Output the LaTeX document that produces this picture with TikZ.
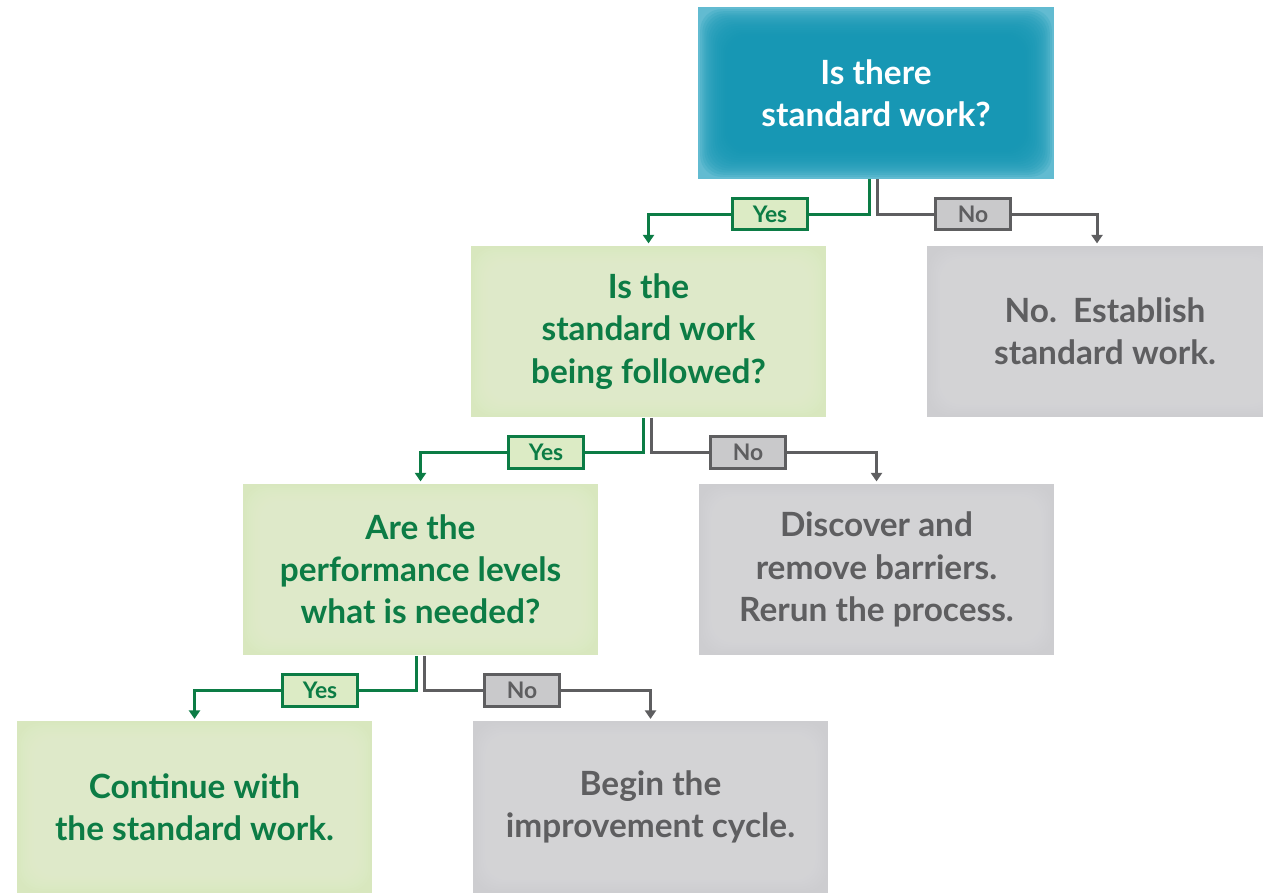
\documentclass[tikz,border=0pt]{standalone}
\usepackage{fontspec}
\setmainfont{Lato}
\usetikzlibrary{arrows.meta}

\definecolor{tealbox}{HTML}{1497B4}
\definecolor{tealedge}{HTML}{62BBD1}
\definecolor{leaf}{HTML}{E3EECE}
\definecolor{leafedge}{HTML}{D8E7BE}
\definecolor{fog}{HTML}{D8D8DA}
\definecolor{fogedge}{HTML}{CDCDD0}
\definecolor{pine}{HTML}{0C7C45}
\definecolor{slate}{HTML}{5E5E60}
\definecolor{yesfill}{HTML}{DCEBC5}
\definecolor{nofill}{HTML}{C9C9CB}

\tikzset{
  box/.style={minimum width=7.12cm, minimum height=3.44cm, inner sep=0pt,
    align=center, font=\fontsize{19}{24}\selectfont\bfseries},
  % soft edge: edge colour outside, body colour built up towards the middle
  glow/.style 2 args={fill=#1, path picture={
    \foreach \i in {1,...,14}
      \fill[#2, opacity=.18, rounded corners=12pt]
        ([shift={(\i*1.2pt,\i*1.2pt)}]path picture bounding box.south west) rectangle
        ([shift={(-\i*1.2pt,-\i*1.2pt)}]path picture bounding box.north east);}},
  question/.style={box, glow={tealedge}{tealbox}, text=white},
  ask/.style={box, glow={leafedge}{leaf}, text=pine},
  outcome/.style={box, glow={fogedge}{fog}, text=slate},
  tag/.style={line width=0.06cm, minimum width=1.5cm, minimum height=0.64cm,
    inner sep=0pt, font=\fontsize{13}{14}\selectfont\bfseries},
  yestag/.style={tag, draw=pine, fill=yesfill, text=pine},
  notag/.style={tag, draw=slate, fill=nofill, text=slate},
  yesline/.style={draw=pine, line width=0.06cm, shorten >=1pt,
    -{Triangle[width=0.22cm,length=0.17cm]}},
  noline/.style={draw=slate, line width=0.06cm, shorten >=1pt,
    -{Triangle[width=0.22cm,length=0.17cm]}},
}

\begin{document}
\begin{tikzpicture}[x=0.02cm, y=-0.02cm]
  \useasboundingbox (0,0) rectangle (1263,892);

  % boxes
  \node[question] (std)       at (876,93)      {Is there\\standard work?};
  \node[ask]      (follow)    at (648.5,331.5) {Is the\\standard work\\being followed?};
  \node[outcome]  (establish) at (1105,331.5)  {No.\ \ Establish\\standard work.};
  \node[ask]      (perf)      at (420.5,569.5) {Are the\\performance levels\\what is needed?};
  \node[outcome]  (barriers)  at (876.5,569.5) {Discover and\\remove barriers.\\Rerun the process.};
  \node[ask]      (keep)      at (194.5,807)   {Continue with\\the standard work.};
  \node[outcome]  (improve)   at (650.5,807)   {Begin the\\improvement cycle.};

  % yes / no tags
  \node[yestag] (yes1) at (770,214) {Yes};
  \node[notag]  (no1)  at (973,214) {No};
  \node[yestag] (yes2) at (546,452) {Yes};
  \node[notag]  (no2)  at (748,452) {No};
  \node[yestag] (yes3) at (320,690) {Yes};
  \node[notag]  (no3)  at (522,690) {No};

  % branches
  \draw[yesline] ([xshift=-0.14cm]std.south) |- (yes1.east) (yes1.west) -| (follow.north);
  \draw[noline]  ([xshift=0.02cm]std.south)  |- (no1.west)  (no1.east)  -| ([xshift=-0.16cm]establish.north);
  \draw[yesline] ([xshift=-0.1cm]follow.south) |- (yes2.east) (yes2.west) -| (perf.north);
  \draw[noline]  ([xshift=0.06cm]follow.south) |- (no2.west)  (no2.east)  -| (barriers.north);
  \draw[yesline] ([xshift=-0.08cm]perf.south) |- (yes3.east) (yes3.west) -| (keep.north);
  \draw[noline]  ([xshift=0.08cm]perf.south)  |- (no3.west)  (no3.east)  -| (improve.north);
\end{tikzpicture}
\end{document}
